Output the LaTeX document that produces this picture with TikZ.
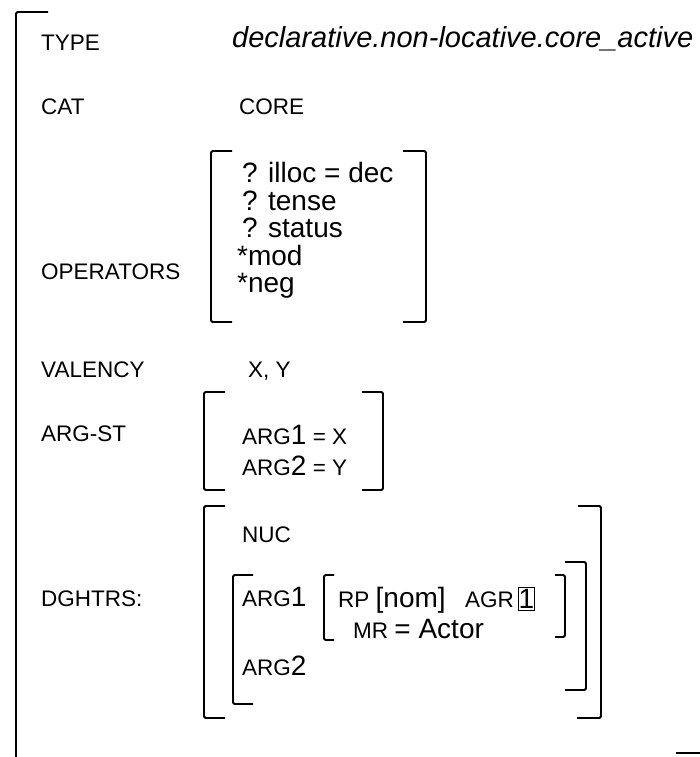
\documentclass[tikz,border=0pt]{standalone}
\usepackage{fontspec}
\setmainfont{Liberation Sans}
\usetikzlibrary{positioning}

\newcommand\argnum{\fontsize{28}{32}\selectfont}

\begin{document}
\begin{tikzpicture}[
    x=1pt, y=-1pt,
    lbl/.style={anchor=base west, inner sep=0pt, font=\fontsize{22.5}{27}\selectfont},
    opline/.style={anchor=base west, inner sep=0pt, font=\fontsize{28}{32}\selectfont},
    brk/.style={line width=1.8pt, rounded corners=1.5pt},
    numbox/.style={draw, line width=0.8pt, inner sep=0pt, minimum width=15pt, minimum height=23pt, font=\argnum},
]
    \useasboundingbox (0,0) rectangle (699,757);

    % Nodes
    \node[lbl] (type) at (41,51) {TYPE};
    \node[lbl, font=\fontsize{29}{33}\selectfont\itshape] (typeval) at (232,48) {declarative.non-locative.core\_active};
    \node[lbl] (cat) at (41,115) {CAT};
    \node[lbl] (catval) at (239,115) {CORE};
    \node[lbl] (ops) at (41,279) {OPERATORS};
    \node[opline] (illoc) at (242,182) {? illoc = dec};
    \node[opline] (tense) at (242,210) {? tense};
    \node[opline] (status) at (242,237) {? status};
    \node[opline] (mod) at (237,265) {*mod};
    \node[opline] (neg) at (237,292) {*neg};
    \node[lbl] (valency) at (41,377) {VALENCY};
    \node[lbl] (valencyval) at (248,377) {X, Y};
    \node[lbl] (argst) at (41,441) {ARG-ST};
    \node[lbl] (argx) at (242,444) {ARG{\argnum 1} = X};
    \node[lbl] (argy) at (242,475) {ARG{\argnum 2} = Y};
    \node[lbl] (dghtrs) at (41,606) {DGHTRS:};
    \node[lbl] (nuc) at (242,542) {NUC};
    \node[lbl] (arga) at (242,606) {ARG{\argnum 1}};
    \node[lbl] (rp) at (338,607) {RP {\argnum [nom]}};
    \node[lbl] (agr) at (465,607) {AGR};
    \node[numbox, right=4pt of agr] (tag) {1};
    \node[lbl] (mr) at (353,638) {MR {\argnum = Actor}};
    \node[lbl] (argb) at (242,675) {ARG{\argnum 2}};

    % Brackets
    \draw[brk] (48,12) -- (16,12) -- (16,765);
    \draw[brk] (676,753) -- (705,753) -- (705,12);
    \draw[brk] (232,151) -- (211,151) -- (211,322) -- (232,322);
    \draw[brk] (403,151) -- (426,151) -- (426,322) -- (403,322);
    \draw[brk] (225,392) -- (204,392) -- (204,490) -- (225,490);
    \draw[brk] (362,392) -- (383,392) -- (383,490) -- (362,490);
    \draw[brk] (225,506) -- (204,506) -- (204,718) -- (225,718);
    \draw[brk] (578,506) -- (601,506) -- (601,718) -- (577,718);
    \draw[brk] (253,575) -- (233,575) -- (233,704) -- (253,704);
    \draw[brk] (565,562) -- (586,562) -- (586,690) -- (565,690);
    \draw[brk] (334,575) -- (324,575) -- (324,640) -- (334,640);
    \draw[brk] (555,575) -- (565,575) -- (565,637) -- (555,637);
\end{tikzpicture}
\end{document}
